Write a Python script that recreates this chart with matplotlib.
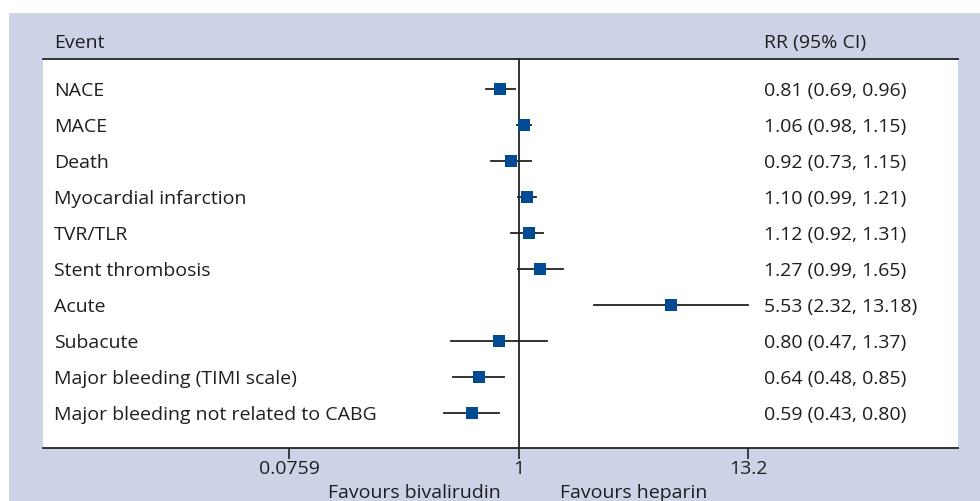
import numpy as np
import matplotlib
matplotlib.use("Agg")
import matplotlib.pyplot as plt
from matplotlib.transforms import blended_transform_factory

events = ["NACE", "MACE", "Death", "Myocardial infarction", "TVR/TLR",
          "Stent thrombosis", "Acute", "Subacute", "Major bleeding (TIMI scale)",
          "Major bleeding not related to CABG"]
rr = [0.81, 1.06, 0.92, 1.10, 1.12, 1.27, 5.53, 0.80, 0.64, 0.59]
lo = [0.69, 0.98, 0.73, 0.99, 0.92, 0.99, 2.32, 0.47, 0.48, 0.43]
hi = [0.96, 1.15, 1.15, 1.21, 1.31, 1.65, 13.18, 1.37, 0.85, 0.80]
ticks = [0.0759, 1, 13.2]
tick_labels = ["0.0759", "1", "13.2"]

plt.rcParams['font.family'] = ['Open Sans', 'DejaVu Sans']
FS = 14.0
TC = "#1e1e1e"

W, H = 980, 501
fig = plt.figure(figsize=(W / 100, H / 100), dpi=100)
fig.patch.set_facecolor("white")
lav = "#cdd3e6"
bg = fig.add_axes([9 / W, 0, 1 - 9 / W, (H - 13) / H], zorder=0)
bg.set_facecolor(lav)
bg.set_xticks([])
bg.set_yticks([])
for s in bg.spines.values():
    s.set_visible(False)

ax = fig.add_axes([43 / W, (H - 448) / H, (958 - 43) / W, (448 - 59) / H], zorder=2)
ax.set_facecolor("white")
ax.set_xscale("log")
ppd = 205.0
x1 = 518.7
ax.set_xlim(10 ** ((43 - x1) / ppd), 10 ** ((958 - x1) / ppd))
n = len(events)
ax.set_ylim(9.97, -0.833)

y = np.arange(n)
for i in range(n):
    ax.plot([lo[i], hi[i]], [y[i], y[i]], color="#222222", lw=1.3, zorder=2)
ax.plot(rr, y, linestyle="none", marker="s", markersize=8.0,
        color="#004b93", markeredgewidth=0, zorder=3)
ax.axvline(1, color="#222222", lw=1.3, zorder=1)

for s in ["left", "right"]:
    ax.spines[s].set_visible(False)
for s in ["top", "bottom"]:
    ax.spines[s].set_linewidth(1.3)
    ax.spines[s].set_color("#222222")
ax.set_yticks([])
ax.set_xticks(ticks)
ax.set_xticklabels(tick_labels, fontsize=FS, color=TC)
ax.xaxis.set_minor_locator(matplotlib.ticker.NullLocator())
ax.tick_params(axis="x", direction="out", length=8, width=1.2, color="#222222", pad=1)

tr = blended_transform_factory(ax.transAxes, ax.transData)
dy = 0.06
for i in range(n):
    ax.text(11 / 915, y[i] + dy, events[i], transform=tr, fontsize=FS,
            va="center", ha="left", color=TC)
    ax.text(721 / 915, y[i] + dy, f"{rr[i]:.2f} ({lo[i]:.2f}, {hi[i]:.2f})",
            transform=tr, fontsize=FS, va="center", ha="left", color=TC)

fig.text(54 / W, (H - 43) / H, "Event", fontsize=FS, va="center", ha="left", color=TC, zorder=3)
fig.text(764 / W, (H - 43) / H, "RR (95% CI)", fontsize=FS, va="center", ha="left", color=TC, zorder=3)
fig.text(501 / W, (H - 493) / H, "Favours bivalirudin", fontsize=FS, va="center", ha="right", color=TC, zorder=3)
fig.text(560 / W, (H - 493) / H, "Favours heparin", fontsize=FS, va="center", ha="left", color=TC, zorder=3)

fig.savefig("out.png", dpi=100, facecolor=fig.get_facecolor())
